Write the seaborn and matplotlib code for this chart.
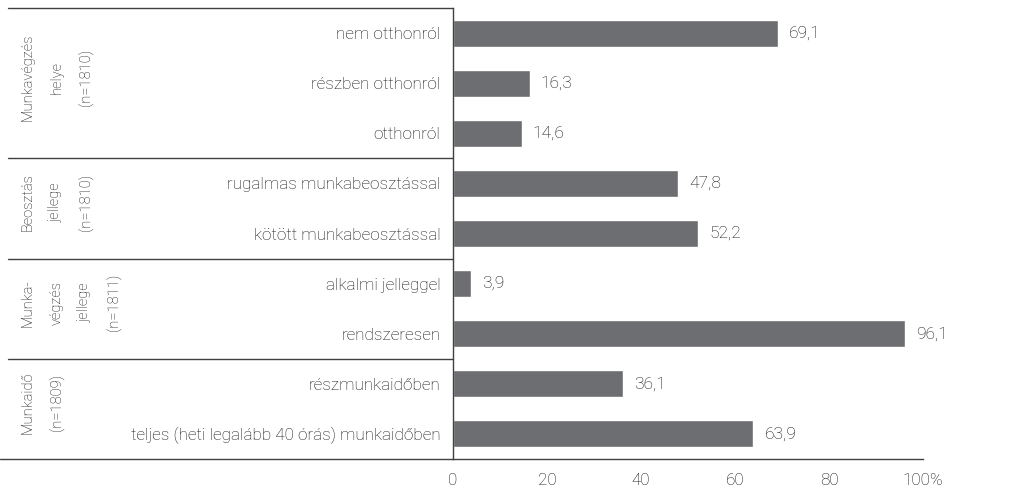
import numpy as np
import pandas as pd
import matplotlib
matplotlib.use("Agg")
import matplotlib.pyplot as plt
import matplotlib.transforms as mtransforms
from matplotlib.lines import Line2D
import seaborn as sns

# adatok
kategoriak = ["nem otthonról", "részben otthonról", "otthonról",
              "rugalmas munkabeosztással", "kötött munkabeosztással",
              "alkalmi jelleggel", "rendszeresen",
              "részmunkaidőben", "teljes (heti legalább 40 órás) munkaidőben"]
ertekek = [69.1, 16.3, 14.6, 47.8, 52.2, 3.9, 96.1, 36.1, 63.9]
csoportok = ["Munkavégzés\nhelye\n(n=1810)", "Beosztás\njellege\n(n=1810)",
             "Munka-\nvégzés\njellege\n(n=1811)", "Munkaidő\n(n=1809)"]
csoport_meret = [3, 2, 2, 2]
x_ticks = [0, 20, 40, 60, 80, 100]
x_labels = ["0", "20", "40", "60", "80", "100%"]

df = pd.DataFrame({"kat": kategoriak, "ertek": ertekek})

sns.set_style("white")
plt.rcParams["font.family"] = ["Roboto", "DejaVu Sans"]
plt.rcParams["font.weight"] = "light"

szurke = "#404040"
szoveg = "#111111"
fig = plt.figure(figsize=(10.16, 4.94), dpi=100)
ax = fig.add_axes([453 / 1016, 35 / 494, 470 / 1016, 451 / 494])

sns.barplot(data=df, x="ertek", y="kat", orient="h", color="#6d6e71",
            width=0.54, saturation=1, ax=ax)

ax.set_xlim(0, 100)
ax.set_ylim(8.5, -0.5)
ax.set_xlabel("")
ax.set_ylabel("")
ax.set_xticks(x_ticks)
ax.set_xticklabels(x_labels, fontsize=12.3, color=szoveg)
ax.tick_params(axis="x", length=6, width=1, color=szurke, pad=4, direction="out")
ax.tick_params(axis="y", which="major", length=0, pad=9, labelsize=12.3, labelcolor=szoveg)
ax.set_yticks(np.arange(-0.5, 9, 1), minor=True)
ax.tick_params(axis="y", which="minor", length=6, width=1, color=szurke, direction="out")

for s in ["top", "right"]:
    ax.spines[s].set_visible(False)
for s in ["left", "bottom"]:
    ax.spines[s].set_color(szurke)
    ax.spines[s].set_linewidth(1)

cimkek = [f"{v:.1f}".replace(".", ",") for v in ertekek]
ax.bar_label(ax.containers[0], labels=cimkek, padding=8, fontsize=12.5, color=szoveg)

# csoport elválasztók és feliratok
tr = mtransforms.blended_transform_factory(fig.transFigure, ax.transData)
bal = 453 / 1016
hatar = -0.5
fig.add_artist(Line2D([0.008, bal], [hatar, hatar], transform=tr, color=szurke, lw=1))
for nev, n in zip(csoportok, csoport_meret):
    kozep = hatar + n / 2
    fig.text(21 / 1016, kozep - 0.12, nev, transform=tr, rotation=90, ha="left", va="center",
             multialignment="center", fontsize=10.5, linespacing=2.3, color=szoveg)
    hatar += n
    fig.add_artist(Line2D([0.0 if hatar == 8.5 else 0.008, bal], [hatar, hatar],
                          transform=tr, color=szurke, lw=1))

fig.savefig("out.png", dpi=100)
